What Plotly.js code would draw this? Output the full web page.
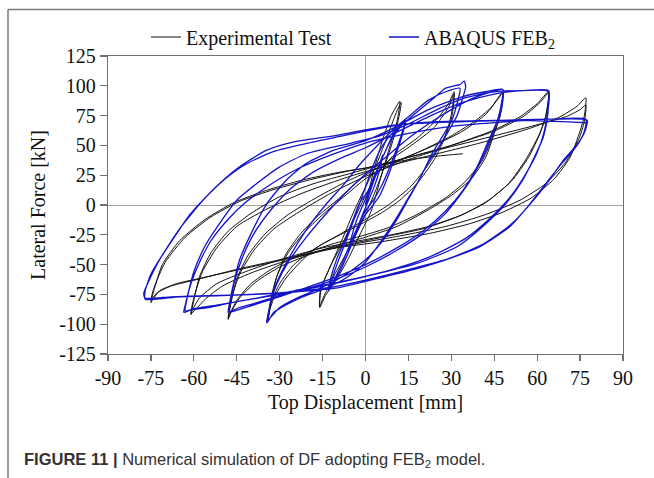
<!DOCTYPE html>
<html>
<head>
<meta charset="utf-8">
<script src="https://cdn.plot.ly/plotly-3.0.1.min.js"></script>
<style>
  html, body { margin: 0; padding: 0; background: #ffffff; }
  #chart { width: 654px; height: 478px; }
</style>
</head>
<body>
<div id="chart"></div>
<script>
// ---------------- DATA ----------------
// Experimental Test: hysteresis path, [displacement mm, force kN]
const expCycle12 = [
  [0,0],[3,30],[6,55],[9,75],[12,87],
  [11,70],[8,45],[5,20],[2,-5],[-2,-25],[-6,-45],[-10,-62],[-14,-76],[-16,-86],
  [-15.8,-72],[-12,-50],[-8,-28],[-4,-5],[0,15],[4,35],[8,60],[11,79],[12.5,86],
  [11,66],[8,42],[4,15],[0,-8],[-4,-28],[-8,-46],[-12,-64],[-15,-79],[-16,-85]
];
const expCycle31 = [
  [-15.5,-70],[-12,-50],[-8,-32],[-4,-12],[0,8],[4,26],[10,42],[18,56],[25,72],[29,85],[31,95],
  [30,76],[28,58],[24,38],[18,18],[12,4],[6,-6],[0,-14],[-8,-24],[-16,-34],[-22,-46],[-28,-62],[-32,-78],[-34,-92],[-34.5,-98],
  [-33,-80],[-31,-60],[-28,-42],[-23,-25],[-17,-10],[-10,4],[-4,17],[0,25],[8,37],[16,50],[24,65],[29,82],[31,93],
  [30,72],[27,54],[22,34],[16,16],[8,0],[0,-12],[-10,-26],[-18,-37],[-25,-50],[-30,-66],[-33,-82],[-34,-96]
];
const expCycle48 = [
  [-33,-78],[-31,-60],[-27,-40],[-21,-22],[-14,-6],[-6,10],[0,22],[10,35],[20,46],[30,58],[38,70],[44,82],[48,95],
  [47,75],[45,60],[42,40],[37,22],[30,8],[22,-4],[11,-18],[0,-27],[-10,-34],[-20,-42],[-30,-52],[-38,-64],[-44,-78],[-47,-90],[-48,-96],
  [-47,-82],[-45,-62],[-41,-42],[-35,-24],[-27,-8],[-18,5],[-8,18],[0,27],[12,38],[24,50],[34,62],[42,76],[46,88],[48,94],
  [47,74],[44.5,58],[41,38],[35,20],[28,6],[18,-8],[8,-19],[0,-25],[-12,-33],[-24,-43],[-33,-54],[-40,-66],[-45,-80],[-47.5,-92],[-48,-95]
];
const expCycle64 = [
  [-47,-80],[-44,-58],[-39,-38],[-32,-20],[-22,-4],[-12,10],[0,24],[15,38],[30,50],[44,62],[54,74],[60,85],[64,95],
  [63,75],[61,60],[57,40],[51,20],[43,4],[34,-8],[22,-18],[11,-24],[0,-29],[-15,-36],[-30,-46],[-42,-56],[-52,-66],[-58,-78],[-60.5,-88],[-61,-92],
  [-60,-80],[-58,-60],[-54,-40],[-48,-22],[-40,-7],[-30,7],[-18,18],[-6,26],[0,30],[15,40],[30,50],[45,62],[55,74],[61,86],[64,94],
  [63,74],[60.5,58],[56,38],[50,18],[42,2],[32,-10],[20,-20],[8,-26],[0,-30],[-14,-37],[-28,-47],[-40,-57],[-50,-68],[-56,-79],[-59.5,-88],[-61,-91]
];
const expCycle77 = [
  [-60,-78],[-57,-56],[-52,-36],[-45,-18],[-35,-4],[-22,10],[-8,22],[0,28],[20,40],[40,52],[57,64],[68,74],[74,83],[77,90],
  [76.5,75],[75,62],[71.5,40],[66,22],[58,6],[48,-6],[36,-16],[22,-24],[5,-31],[-10,-36],[-25,-44],[-40,-52],[-55,-60],[-66,-66],[-72,-72],[-74.5,-80],[-75,-82],
  [-74,-72],[-71,-50],[-65,-30],[-56,-12],[-46,2],[-35,12],[-22,21],[-8,28],[0,31],[20,43],[40,55],[58,66],[70,74],[75,80],[77,84],
  [76.5,70],[74.5,55],[70,36],[63,18],[54,4],[42,-8],[28,-18],[12,-26],[0,-31],[-15,-38],[-30,-46],[-45,-54],[-58,-62],[-68,-68],[-73,-74],[-75,-80],
  [-74,-70],[-70,-48],[-63,-27],[-54,-10],[-44,3],[-32,13],[-18,22],[-5,29],[0,31],[15,38],[25,41],[34,43]
];

// ABAQUS FEB2 simulation: hysteresis path, [displacement mm, force kN]
const febCycle13 = [
  [0,0],[2,14],[4,28],[6,42],
  [5,30],[3,15],[0,-2],[-3,-20],[-6,-40],
  [-5,-28],[-3,-12],[0,5],[3,22],[6,40],[9,55],[12,65],[14,71],
  [13,60],[11,45],[8,25],[5,8],[2,-2],[0,-8],[-3,-22],[-6,-40],[-9,-56],[-12,-68],[-13,-72],
  [-12,-60],[-10,-45],[-7,-28],[-4,-10],[-2,2],[1,12],[3,24],[6,40],[9,56],[12,66],[14,71],
  [12,55],[9,35],[6,18],[3,5],[0,-5],[-4,-25],[-8,-48],[-11,-63],[-13,-72]
];
const febCycle35 = [
  [-10,-50],[-6,-25],[-3,-5],[0,15],[3,35],[6,50],[10,62],[15,72],[20,82],[25,92],[28,98],[31,100],[33,101],[34.5,104],[35,99],
  [34,90],[32,75],[29,62],[26,50],[22,36],[18,18],[14,2],[10,-14],[5,-32],[0,-48],[-6,-60],[-14,-70],[-22,-77],[-28,-84],[-32,-90],[-34.5,-99],
  [-33.5,-85],[-32,-71],[-28,-50],[-21,-22],[-14,0],[-8,16],[-2,34],[5,52],[10,64],[16,76],[22,88],[28,95],[33,98],
  [32,85],[30,70],[27,58],[23,42],[19,22],[15,5],[11,-12],[6,-30],[0,-46],[-8,-60],[-16,-70],[-24,-78],[-30,-86],[-34,-96]
];
const febCycle48 = [
  [-33,-80],[-31,-66],[-27,-48],[-21,-28],[-14,-8],[-7,10],[0,26],[8,42],[15,56],[22,68],[30,80],[38,90],[44,95],[48,97],
  [47.5,85],[46.5,74],[44,57],[41,40],[37,22],[33,8],[28,-7],[20,-24],[11,-38],[0,-52],[-10,-62],[-20,-70],[-30,-76],[-38,-82],[-44,-86],[-47,-89],[-48,-90],
  [-47.5,-82],[-46.5,-70],[-44,-46],[-40,-24],[-34.5,1],[-27.6,21],[-20.6,35],[-11,46],[0,54],[11,66],[22,80],[34,91],[42,95],[48,97],
  [47.5,80],[46,70],[43,54],[39,32],[34,12],[28,-5],[20,-22],[11,-36],[0,-50],[-12,-62],[-24,-72],[-34,-80],[-42,-86],[-48,-90]
];
const febCycle63 = [
  [-47,-80],[-46,-66],[-43,-44],[-39,-24],[-33,-4],[-26,14],[-18,28],[-8,40],[0,48],[10,60],[22,74],[34,86],[45,93],[55,96],[64,96],
  [64,85],[63.5,72],[62,56],[59,40],[55,21],[49,1],[41,-18],[32,-35],[18,-49],[0,-60],[-15,-68],[-30,-75],[-45,-81],[-55,-86],[-61,-88],[-63.5,-90],
  [-63,-84],[-62,-74],[-60,-56],[-56,-34],[-50,-12],[-45,4],[-38,18],[-30,32],[-20.6,43],[-5,52],[5,58],[15,68],[25,80],[35,90],[45,95],[55,96],[64,95],
  [63.5,75],[62.5,62],[60,44],[56,26],[51,8],[44,-10],[35,-28],[22,-44],[8,-55],[-8,-64],[-25,-72],[-40,-79],[-52,-84],[-60,-87],[-63,-89]
];
const febCycle77 = [
  [-62.5,-80],[-61,-66],[-58,-48],[-54,-30],[-48,-12],[-42,2],[-34,16],[-24,30],[-12,42],[0,52],[15,60],[30,66],[50,70],[65,72],[77,72],
  [76.5,62],[75,54],[72,44],[69,36],[63,18],[57.5,1],[50.5,-18],[40,-35],[28,-46],[17,-54],[0,-64],[-11,-70],[-25,-73],[-40,-75],[-55,-76],[-68,-77],[-77,-78],
  [-77.5,-74],[-75,-60],[-72,-46],[-66,-24],[-62,-10],[-58,1],[-51,18],[-44,32],[-34.5,46],[-25,53],[-11,58],[0,63],[10,67],[25,70],[45,71],[65,72],[77.5,71],
  [77,64],[75.5,56],[73,48],[69,37],[64,20],[58,2],[51,-16],[41,-33],[29,-45],[17,-53],[0,-63],[-12,-69],[-30,-74],[-50,-76],[-65,-77],[-77,-79],
  [-77,-72],[-75,-58],[-71,-42],[-65,-20],[-60,-5],[-56,6],[-49,22],[-42,34],[-32,45],[-20,52],[-8,58],[0,62],[15,68],[35,70],[55,71],[77,69]
];

const seriesNames = ['Experimental Test', 'ABAQUS FEB<sub>2</sub>'];
const xTickVals = [-90,-75,-60,-45,-30,-15,0,15,30,45,60,75,90];
const xTickText = ['-90','-75','-60','-45','-30','-15','0','15','30','45','60','75','90'];
const yTickVals = [-125,-100,-75,-50,-25,0,25,50,75,100,125];
const yTickText = ['-125','-100','-75','-50','-25','0','25','50','75','100','125'];
const xTitle = 'Top Displacement [mm]';
const yTitle = 'Lateral Force [kN]';
const caption = '<b>FIGURE 11 |</b> Numerical simulation of DF adopting FEB<sub>2</sub> model.';

// ---------------- BUILD ----------------
const expPts = [].concat(expCycle12, expCycle31, expCycle48, expCycle64, expCycle77);
const febPts = [].concat(febCycle13, febCycle35, febCycle48, febCycle63, febCycle77);

const serif = 'Liberation Serif, Times New Roman, serif';

const traces = [
  {
    x: expPts.map(p => p[0]), y: expPts.map(p => p[1]),
    type: 'scatter', mode: 'lines', name: seriesNames[0],
    line: {color: '#111111', width: 1, shape: 'spline', smoothing: 0.6},
    legend: 'legend'
  },
  {
    x: febPts.map(p => p[0]), y: febPts.map(p => p[1]),
    type: 'scatter', mode: 'lines', name: seriesNames[1],
    line: {color: '#1414c8', width: 1.3, shape: 'spline', smoothing: 0.6},
    legend: 'legend2'
  }
];

const W = 654, H = 478;
const L = 108, R = 31, T = 56, B = 124;
const pw = W - L - R, ph = H - T - B;
const px = v => (v - L) / pw;          // page px -> paper x
const py = v => (H - B - v) / ph;      // page px -> paper y

const layout = {
  width: W, height: H,
  margin: {l: L, r: R, t: T, b: B, pad: 0},
  paper_bgcolor: '#ffffff', plot_bgcolor: '#ffffff',
  font: {family: serif, size: 20, color: '#111111'},
  xaxis: {
    range: [-90, 90], tickvals: xTickVals, ticktext: xTickText,
    showgrid: false, zeroline: true, zerolinecolor: '#a0a0a0', zerolinewidth: 1,
    showline: true, linecolor: '#707070', linewidth: 1.2, mirror: true,
    ticks: 'outside', ticklen: 6, tickcolor: '#707070', tickwidth: 1.2,
    tickfont: {family: serif, size: 20, color: '#111111'},
    title: {text: xTitle, font: {family: serif, size: 20, color: '#111111'}, standoff: 6}
  },
  yaxis: {
    range: [-125, 125], tickvals: yTickVals, ticktext: yTickText,
    showgrid: false, zeroline: true, zerolinecolor: '#a0a0a0', zerolinewidth: 1,
    showline: true, linecolor: '#707070', linewidth: 1.2, mirror: true,
    ticks: 'outside', ticklen: 7, tickcolor: '#707070', tickwidth: 1.2,
    tickfont: {family: serif, size: 20, color: '#111111'},
    title: {text: yTitle, font: {family: serif, size: 20, color: '#111111'}, standoff: 8}
  },
  showlegend: true,
  legend: {
    x: px(146), xanchor: 'left', y: py(37), yanchor: 'middle',
    orientation: 'h', bgcolor: 'rgba(0,0,0,0)', itemwidth: 30,
    font: {family: serif, size: 20, color: '#111111'}
  },
  legend2: {
    x: px(384), xanchor: 'left', y: py(37), yanchor: 'middle',
    orientation: 'h', bgcolor: 'rgba(0,0,0,0)', itemwidth: 30,
    font: {family: serif, size: 20, color: '#111111'}
  },
  shapes: [
    {type: 'line', xref: 'paper', yref: 'paper', x0: px(8), x1: px(654), y0: py(9.5), y1: py(9.5),
     line: {color: '#7a7a7a', width: 1.5}},
    {type: 'line', xref: 'paper', yref: 'paper', x0: px(8), x1: px(8), y0: py(9.5), y1: py(478),
     line: {color: '#7a7a7a', width: 1.5}}
  ],
  annotations: [
    {text: caption, xref: 'paper', yref: 'paper', x: px(22), y: py(460),
     xanchor: 'left', yanchor: 'middle', showarrow: false,
     font: {family: 'Liberation Sans, Arial, sans-serif', size: 16.5, color: '#333333'}}
  ]
};

Plotly.newPlot('chart', traces, layout, {displayModeBar: false, staticPlot: true});
</script>
</body>
</html>
